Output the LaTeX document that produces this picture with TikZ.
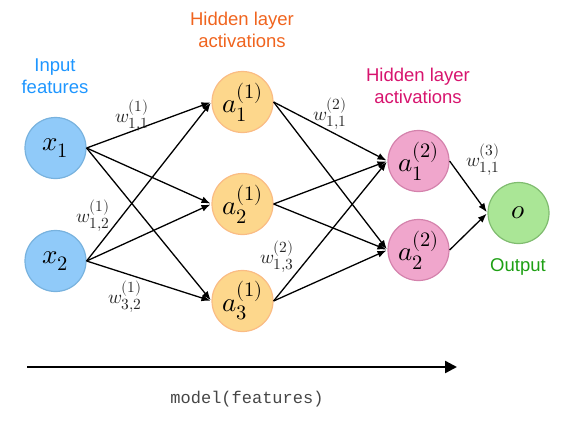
\documentclass[tikz,border=0pt]{standalone}
\usepackage{fontspec}
\usepackage{unicode-math}
\setmainfont{Liberation Sans}
\setmonofont{Liberation Mono}
\setmathfont{Latin Modern Math}
\DeclareMathSizes{27}{27}{20.5}{16}
\DeclareMathSizes{19}{19}{15.5}{12}
\usetikzlibrary{arrows.meta}
\definecolor{inpfill}{RGB}{144,202,249}
\definecolor{inpdraw}{RGB}{120,178,222}
\definecolor{hidfill}{RGB}{253,215,140}
\definecolor{hiddraw}{RGB}{250,188,132}
\definecolor{pinkfill}{RGB}{240,166,204}
\definecolor{pinkdraw}{RGB}{212,130,172}
\definecolor{outfill}{RGB}{170,230,150}
\definecolor{outdraw}{RGB}{128,188,112}
\definecolor{inptext}{RGB}{30,150,255}
\definecolor{hidtext}{RGB}{240,100,30}
\definecolor{pinktext}{RGB}{215,20,110}
\definecolor{outtext}{RGB}{30,160,20}
\definecolor{monotext}{RGB}{70,70,70}
\tikzset{
  neuron/.style={circle, minimum size=61pt, inner sep=0pt, line width=1.2pt, font=\fontsize{27}{30}\selectfont},
  inp/.style={neuron, fill=inpfill, draw=inpdraw},
  hid/.style={neuron, fill=hidfill, draw=hiddraw},
  hidb/.style={neuron, fill=pinkfill, draw=pinkdraw},
  outn/.style={neuron, fill=outfill, draw=outdraw},
  conn/.style={-{Latex[length=9pt,width=7pt]}, line width=1.3pt, shorten >=1pt},
  wlab/.style={font=\fontsize{19}{22}\selectfont, text=black!85},
  captext/.style={font=\fontsize{18.5}{22}\selectfont, align=center, inner sep=0pt},
}
\begin{document}
\begin{tikzpicture}[x=1pt,y=-1pt]
\useasboundingbox (0,0) rectangle (584,421);
\node[inp] (x1) at (55.5,148) {$x_1$};
\node[inp] (x2) at (55.5,261) {$x_2$};
\node[hid] (a1) at (242.5,102) {$a^{(1)}_1$};
\node[hid] (a2) at (242.5,204) {$a^{(1)}_2$};
\node[hid] (a3) at (242.5,301) {$a^{(1)}_3$};
\node[hidb] (b1) at (418.5,161) {$a^{(2)}_1$};
\node[hidb] (b2) at (418.5,250) {$a^{(2)}_2$};
\node[outn] (o) at (518.5,213) {$o$};

\foreach \s in {x1,x2}{\foreach \t in {a1,a2,a3}{\draw[conn] (\s.east) -- (\t.west);}}
\foreach \s in {a1,a2,a3}{\foreach \t in {b1,b2}{\draw[conn] (\s.east) -- (\t.west);}}
\draw[conn] (b1.east) -- (o.west);
\draw[conn] (b2.east) -- (o.west);

\node[wlab] (w1) at (132,116) {$w^{(1)}_{1,1}$};
\node[wlab] (w2) at (93,216) {$w^{(1)}_{1,2}$};
\node[wlab] (w3) at (125,297) {$w^{(1)}_{3,2}$};
\node[wlab] (w4) at (277,257) {$w^{(2)}_{1,3}$};
\node[wlab] (w5) at (330,114) {$w^{(2)}_{1,1}$};
\node[wlab] (w6) at (483,160) {$w^{(3)}_{1,1}$};

\node[captext, text=inptext] (l1) at (55,76) {Input\\features};
\node[captext, text=hidtext] (l2) at (242,30) {Hidden layer\\activations};
\node[captext, text=pinktext] (l3) at (418,86) {Hidden layer\\activations};
\node[captext, text=outtext] (l4) at (518,267) {Output};

\coordinate (s) at (27,367);
\coordinate (e) at (457,367);
\draw[line width=2.4pt, -{Triangle[length=12pt,width=12pt]}] (s) -- (e);
\node[font=\ttfamily\fontsize{17}{20}\selectfont, text=monotext] (m) at (247,399) {model(features)};
\end{tikzpicture}
\end{document}
